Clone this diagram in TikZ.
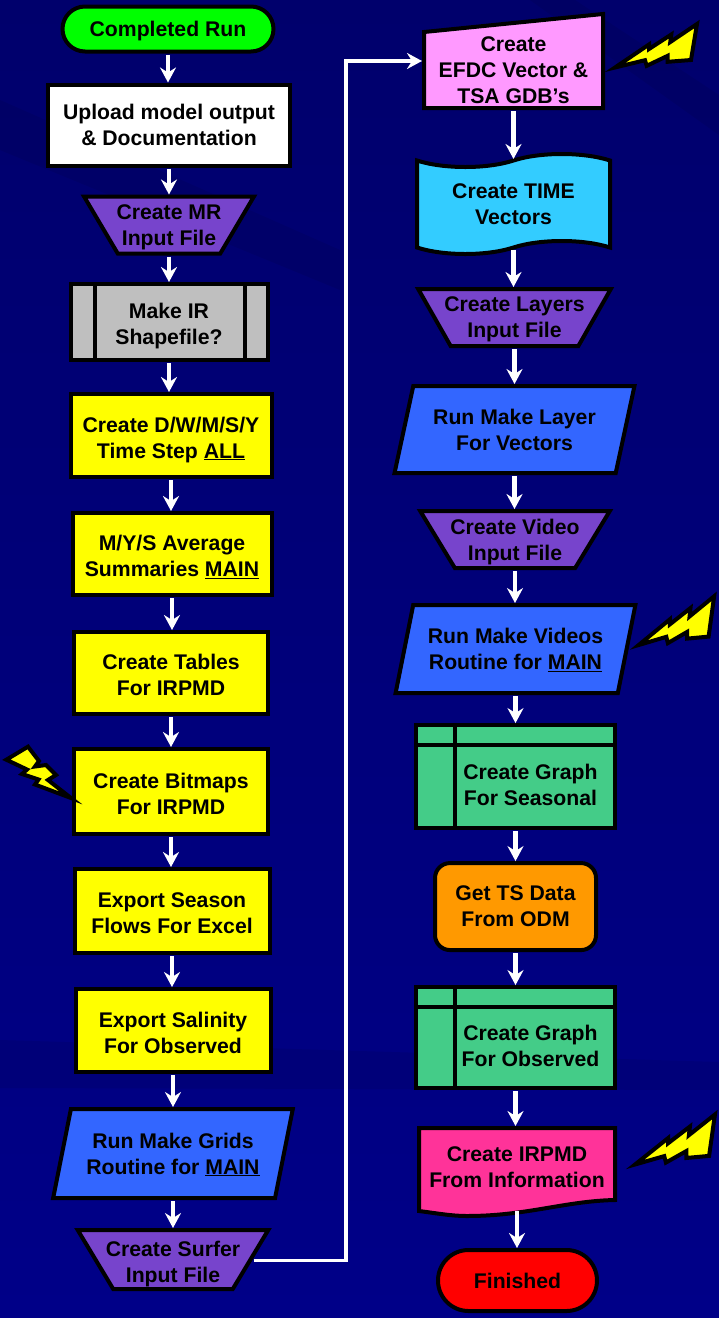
\documentclass[tikz,border=0pt]{standalone}
\usepackage{fontspec}
\setmainfont{Liberation Sans}
\usepackage{tikz}
\usetikzlibrary{arrows.meta,positioning,shapes.geometric,shapes.misc,shapes.symbols,backgrounds,calc}

\definecolor{navytop}{HTML}{00006C}
\definecolor{navybot}{HTML}{000088}
\definecolor{trapfill}{HTML}{7744CC}
\definecolor{runfill}{HTML}{3366FF}
\definecolor{manualfill}{HTML}{FF99FF}
\definecolor{tapefill}{HTML}{33CCFF}
\definecolor{graphfill}{HTML}{44CC88}
\definecolor{docfill}{HTML}{FF3399}
\definecolor{odmfill}{HTML}{FF9900}
\definecolor{yelfill}{HTML}{FFFF00}
\definecolor{startfill}{HTML}{00FF00}
\definecolor{endfill}{HTML}{FF0000}

\tikzset{
  bolt/.pic={\draw[line width=4pt, miter limit=30, fill=yelfill]
    (0,0) -- (34,-23) -- (34,-18.5) -- (56.3,-33) -- (55.3,-25.5) -- (82,-43.5)
    -- (76,-7.5) -- (52.7,-5.7) -- (52.7,-11.7) -- (31.7,-1.7) -- (30,-7.3) -- cycle;}
}

\begin{document}
\begin{tikzpicture}[x=1pt, y=-1pt, line width=4pt,
  box/.style={draw=black, align=center, font=\fontsize{21.2}{26}\selectfont\bfseries, inner sep=0pt, text depth=0pt},
  lowtext/.style={text height=45pt},
  term/.style={box, rounded rectangle},
  yel/.style={box, lowtext, fill=yelfill, minimum width=195pt, minimum height=83pt},
  itrap/.style={box, fill=trapfill, trapezium, shape border rotate=180, trapezium stretches=true,
    inner xsep=-18pt, minimum height=57pt},
  runbox/.style={box, fill=runfill, trapezium, trapezium left angle=70, trapezium right angle=110,
    trapezium stretches=true, minimum width=240pt, minimum height=88pt},
  storage/.style={box, fill=graphfill, minimum width=199pt, minimum height=101pt, path picture={
    \draw ([yshift=-20pt]path picture bounding box.north west) -- ([yshift=-20pt]path picture bounding box.north east);
    \draw ([xshift=39pt]path picture bounding box.north west) -- ([xshift=39pt]path picture bounding box.south west);}},
  graphtext/.style={font=\fontsize{21.2}{26}\selectfont\bfseries, align=center, text depth=0pt, shift={(15pt,-8pt)}},
  band/.style={fill=black, opacity=.07},
  arr/.style={-{Stealth[length=15pt, width=16pt, inset=5pt]}, line width=4.5pt, white, shorten <=1pt}]

\useasboundingbox (0,0) rectangle (719,1318);

\node (done) [term, fill=startfill, minimum width=211pt, minimum height=45pt] at (168,29) {Completed Run};
\node (upload) [box, fill=white, minimum width=242pt, minimum height=81pt, below=29pt of done, xshift=1pt] {Upload model output\\\& Documentation};
\node (mr) [itrap, trapezium left angle=61, trapezium right angle=61, minimum width=170pt, below=27pt of upload] {Create MR\\Input File};
\node (ir) [box, lowtext, fill=lightgray, minimum width=197pt, minimum height=76pt, below=26.5pt of mr, path picture={
    \draw ([xshift=24pt]path picture bounding box.north west) -- ([xshift=24pt]path picture bounding box.south west);
    \draw ([xshift=-23pt]path picture bounding box.north east) -- ([xshift=-23pt]path picture bounding box.south east);}] {Make IR\\Shapefile?};
\node (dw) [yel, minimum width=201pt, below=30pt of ir, xshift=2pt] {Create D/W/M/S/Y\\Time Step \underline{ALL}};
\node (my) [yel, minimum width=199pt, minimum height=82pt, below=32pt of dw, xshift=1pt] {M/Y/S Average\\Summaries \underline{MAIN}};
\node (tables) [yel, minimum width=194pt, minimum height=82pt, below=33pt of my, xshift=-1pt] {Create Tables\\For IRPMD};
\node (bitmaps) [yel, minimum width=194pt, minimum height=85pt, below=31pt of tables] {Create Bitmaps\\For IRPMD};
\node (season) [yel, minimum height=84pt, below=31pt of bitmaps, xshift=1pt] {Export Season\\Flows For Excel};
\node (salinity) [yel, below=32pt of season, xshift=1pt] {Export Salinity\\For Observed};
\node (grids) [runbox, minimum height=89pt, below=33pt of salinity] {Run Make Grids\\Routine for \underline{MAIN}};
\node (surfer) [itrap, lowtext, trapezium left angle=57, trapezium right angle=57, minimum width=191pt, minimum height=59pt, below=28pt of grids] {Create Surfer\\Input File};

\node (efdc) [box, draw=none, outer sep=0pt, minimum width=179pt, minimum height=76pt] at (513.5,70) {Create\\EFDC Vector \&\\TSA GDB’s};
\node (time) [box, fill=tapefill, tape, tape bend top=in and out, tape bend bottom=in and out, tape bend height=13pt,
  minimum width=193pt, minimum height=100pt] at (513.5,204) {Create TIME\\Vectors};
\node (layers) [itrap, trapezium left angle=57, trapezium right angle=57, minimum width=193pt] at (514.5,317.5) {Create Layers\\Input File};
\node (layer) [runbox, minimum height=87pt, below=36pt of layers] {Run Make Layer\\For Vectors};
\node (video) [itrap, trapezium left angle=57, trapezium right angle=57, minimum width=190pt, below=34pt of layer, xshift=.5pt] {Create Video\\Input File};
\node (videos) [runbox, below=33pt of video, xshift=.5pt] {Run Make Videos\\Routine for \underline{MAIN}};
\node (seasonal) [storage, minimum height=103pt, below=28pt of videos, label={[graphtext]center:Create Graph\\For Seasonal}] {};
\node (odm) [box, fill=odmfill, rounded corners=15pt, minimum width=161pt, minimum height=87pt, below=31pt of seasonal] {Get TS Data\\From ODM};
\node (observed) [storage, below=33pt of odm, label={[graphtext]center:Create Graph\\For Observed}] {};
\node (irpmd) [box, draw=none, outer sep=0pt, minimum width=196pt, minimum height=78pt] at (517,1167) {Create IRPMD\\From Information};
\node (finished) [term, fill=endfill, minimum width=159pt, minimum height=61pt] at (517.5,1280.5) {Finished};

\begin{scope}[on background layer]
\fill[bottom color=navybot, top color=navytop] (0,0) rectangle (719,1318);
\fill[band] (530,0) -- (575,0) -- (719,95) -- (719,135) -- cycle;
\fill[band] (0,100) -- (0,150) -- (340,290) -- (340,250) -- cycle;
\fill[band] (0,1040) -- (719,1062) -- (719,1090) -- (0,1088) -- cycle;
\draw[line width=4pt, fill=manualfill] (efdc.north west) -- ([yshift=18pt]efdc.north east) -- (efdc.south east) -- (efdc.south west) -- cycle;
\draw[line width=4pt, fill=docfill] (irpmd.north west) -- (irpmd.north east) -- ([yshift=6pt]irpmd.south east)
  .. controls +(-50,1) and +(60,0) .. ([shift={(48pt,-10pt)}]irpmd.south west)
  .. controls +(-16,0) and +(16,2) .. ([yshift=-5pt]irpmd.south west) -- cycle;
\end{scope}

\draw[arr] (done.south) -- (done.south |- upload.north);
\draw[arr] (upload.south) -- (upload.south |- mr.north);
\draw[arr] (mr.south) -- (mr.south |- ir.north);
\draw[arr] (ir.south) -- (ir.south |- dw.north);
\draw[arr] (dw.south) -- (dw.south |- my.north);
\draw[arr] (my.south) -- (my.south |- tables.north);
\draw[arr] (tables.south) -- (tables.south |- bitmaps.north);
\draw[arr] (bitmaps.south) -- (bitmaps.south |- season.north);
\draw[arr] (season.south) -- (season.south |- salinity.north);
\draw[arr] (salinity.south) -- (salinity.south |- grids.north);
\draw[arr] (grids.south) -- (grids.south |- surfer.north);
\draw[arr, line width=3.5pt] ([yshift=-1pt]surfer.east) -- ++(93,0) |- ([yshift=9pt, xshift=-2pt]efdc.west);
\draw[arr, shorten <=3pt] (efdc.south) -- (efdc.south |- time.north);
\draw[arr] (time.south) -- (time.south |- layers.north);
\draw[arr] (layers.south) -- (layers.south |- layer.north);
\draw[arr] (layer.south) -- (layer.south |- video.north);
\draw[arr] (video.south) -- (video.south |- videos.north);
\draw[arr] (videos.south) -- (videos.south |- seasonal.north);
\draw[arr] (seasonal.south) -- (seasonal.south |- odm.north);
\draw[arr] (odm.south) -- (odm.south |- observed.north);
\draw[arr, shorten >=2pt] (observed.south) -- (observed.south |- irpmd.north);
\draw[arr] ([yshift=-4pt]irpmd.south) -- (irpmd.south |- finished.north);

\pic at (615,67.5) {bolt};
\pic[xscale=.92, yscale=1.12] at (638.7,645) {bolt};
\pic[xscale=.975, yscale=1.15] at (635,1164.5) {bolt};
\draw[line width=4pt, miter limit=30, fill=yelfill] (71,798) -- (35,784.5) -- (38.5,779.5) -- (22,774) -- (27,769.5)
  -- (6.3,759.7) -- (28,746.7) -- (39,761) -- (35,766.5) -- (46,765) -- (56,775) -- (48,780) -- cycle;

\end{tikzpicture}
\end{document}
